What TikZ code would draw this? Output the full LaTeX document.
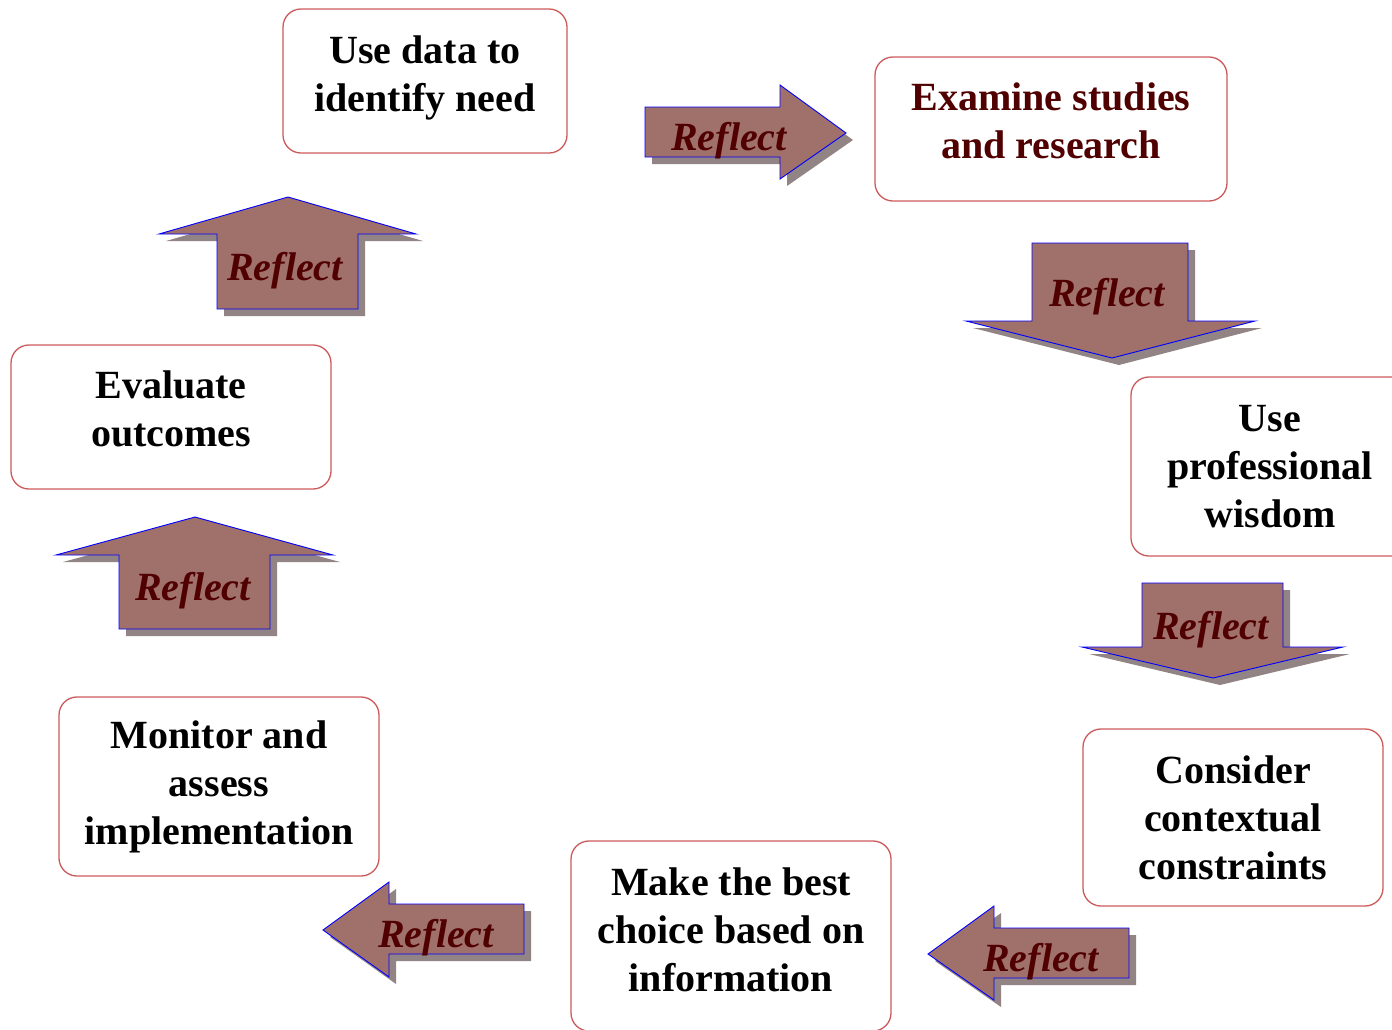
\documentclass[tikz,border=0pt]{standalone}
\usepackage{fontspec}
\setmainfont{Liberation Serif}

\definecolor{arrowfill}{RGB}{160,112,106}
\definecolor{arrowshade}{RGB}{146,132,132}
\definecolor{reflecttext}{RGB}{80,0,0}
\definecolor{boxline}{RGB}{204,90,90}

% extra depth under the last line, lifts the text inside its box
\newcommand{\liftby}[1]{\rule[-#1]{0pt}{#1}}

\begin{document}
\begin{tikzpicture}[x=1pt, y=-1pt,
    stage/.style={draw=boxline, line width=1.3pt, rounded corners=18pt, align=center,
        font=\fontsize{40}{48}\selectfont\bfseries, inner sep=0pt},
    arrowbody/.style={fill=arrowfill, draw=blue, line width=0.9pt},
    arrowshadow/.style={fill=arrowshade, shift={(7,7)}},
    reflect/.style={font=\fontsize{40}{48}\selectfont\bfseries\itshape, text=reflecttext}]
    \useasboundingbox (0,0) rectangle (1392,1029);

    % stages
    \node[stage, minimum width=284, minimum height=144] (need) at (425,81) {Use data to\\identify need\liftby{15pt}};
    \node[stage, minimum width=352, minimum height=144, text=reflecttext] (studies) at (1051,129) {Examine studies\\and research\liftby{16pt}};
    \node[stage, minimum width=278, minimum height=179] (wisdom) at (1270,466.5) {Use\\professional\\wisdom};
    \node[stage, minimum width=300, minimum height=177] (constraints) at (1233,817.5) {Consider\\contextual\\constraints};
    \node[stage, minimum width=320, minimum height=190] (choice) at (731,936) {Make the best\\choice based on\\information\liftby{12pt}};
    \node[stage, minimum width=320, minimum height=179] (monitor) at (219,786.5) {Monitor and\\assess\\implementation};
    \node[stage, minimum width=320, minimum height=144] (evaluate) at (171,417) {Evaluate\\outcomes\liftby{16pt}};

    % need -> studies
    \fill[arrowshadow] (645,107) -- (780,107) -- (780,85) -- (846,133) -- (780,179) -- (780,157) -- (645,157) -- cycle;
    \filldraw[arrowbody] (645,107) -- (780,107) -- (780,85) -- (846,133) -- (780,179) -- (780,157) -- (645,157) -- cycle;
    \node[reflect] (reflect1) at (729,141) {Reflect};

    % studies -> wisdom
    \fill[arrowshadow] (1032,243) -- (1188,243) -- (1188,321) -- (1255,321) -- (1112,358) -- (966,321) -- (1032,321) -- cycle;
    \filldraw[arrowbody] (1032,243) -- (1188,243) -- (1188,321) -- (1255,321) -- (1112,358) -- (966,321) -- (1032,321) -- cycle;
    \node[reflect] (reflect2) at (1107,297) {Reflect};

    % wisdom -> constraints
    \fill[arrowshadow] (1142,583) -- (1283,583) -- (1283,647) -- (1343,647) -- (1213,678) -- (1082,647) -- (1142,647) -- cycle;
    \filldraw[arrowbody] (1142,583) -- (1283,583) -- (1283,647) -- (1343,647) -- (1213,678) -- (1082,647) -- (1142,647) -- cycle;
    \node[reflect] (reflect3) at (1211,630) {Reflect};

    % constraints -> choice
    \fill[arrowshadow] (1129,928) -- (994,928) -- (994,906) -- (928,954) -- (994,1000) -- (994,978) -- (1129,978) -- cycle;
    \filldraw[arrowbody] (1129,928) -- (994,928) -- (994,906) -- (928,954) -- (994,1000) -- (994,978) -- (1129,978) -- cycle;
    \node[reflect] (reflect4) at (1041,962) {Reflect};

    % choice -> monitor
    \fill[arrowshadow] (524,904) -- (389,904) -- (389,882) -- (323,930) -- (389,977) -- (389,954) -- (524,954) -- cycle;
    \filldraw[arrowbody] (524,904) -- (389,904) -- (389,882) -- (323,930) -- (389,977) -- (389,954) -- (524,954) -- cycle;
    \node[reflect] (reflect5) at (436,938) {Reflect};

    % monitor -> evaluate
    \fill[arrowshadow] (119,629) -- (119,555) -- (56,555) -- (195,517) -- (333,555) -- (270,555) -- (270,629) -- cycle;
    \filldraw[arrowbody] (119,629) -- (119,555) -- (56,555) -- (195,517) -- (333,555) -- (270,555) -- (270,629) -- cycle;
    \node[reflect] (reflect6) at (193,591) {Reflect};

    % evaluate -> need
    \fill[arrowshadow] (217,309) -- (217,234) -- (159,234) -- (288,197) -- (416,234) -- (358,234) -- (358,309) -- cycle;
    \filldraw[arrowbody] (217,309) -- (217,234) -- (159,234) -- (288,197) -- (416,234) -- (358,234) -- (358,309) -- cycle;
    \node[reflect] (reflect7) at (285,271) {Reflect};
\end{tikzpicture}
\end{document}
